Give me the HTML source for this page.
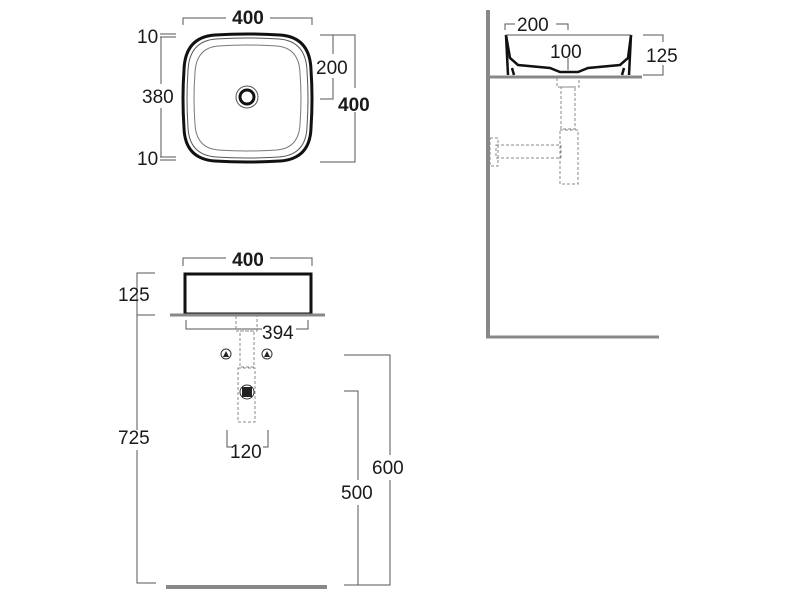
<!DOCTYPE html>
<html><head><style>body{margin:0;background:#fff}svg{display:block}text{font-family:"Liberation Sans",Arial,sans-serif;font-size:19px;fill:#1a1a1a}.b{font-weight:bold}</style></head><body>
<svg width="800" height="600" viewBox="0 0 800 600" xmlns="http://www.w3.org/2000/svg">
<g fill="none" stroke="#555" stroke-width="1">
<polyline points="183,25 183,18 226,18"/><polyline points="270,18 312,18 312,25"/>
<line x1="160" y1="34" x2="176" y2="34"/><line x1="160" y1="37" x2="176" y2="37"/>
<line x1="160" y1="157" x2="176" y2="157"/><line x1="160" y1="160" x2="176" y2="160"/>
<line x1="161" y1="37" x2="161" y2="84"/><line x1="161" y1="108" x2="161" y2="157"/>
<polyline points="320,35 355,35 355,88"/><polyline points="355,112 355,162 320,162"/>
<polyline points="333,35 333,54"/><polyline points="333,78 333,99 320,99"/>
</g>
<path d="M215,35 Q247,33 280,35 Q310,37 311,70 Q313,98 311,128 Q310,159 280,161 Q247,163 215,161 Q185,159 184,128 Q182,98 184,70 Q185,37 215,35Z" fill="none" stroke="#111" stroke-width="3"/>
<path d="M216,39 Q247,37 279,39 Q306,41 307,71 Q309,98 307,127 Q306,155 279,157 Q247,159 216,157 Q189,155 188,127 Q186,98 188,71 Q189,41 216,39Z" fill="none" stroke="#555" stroke-width="1"/>
<path d="M218,46 Q247,44 277,46 Q299,48 300,73 Q302,98 300,124 Q299,148 277,150 Q247,152 218,150 Q196,148 195,124 Q193,98 195,73 Q196,48 218,46Z" fill="none" stroke="#777" stroke-width="1"/>
<circle cx="247" cy="97" r="11" fill="none" stroke="#555"/>
<circle cx="247" cy="97" r="7" fill="none" stroke="#111" stroke-width="3"/>
<text x="248" y="24" text-anchor="middle" class="b">400</text>
<text x="137" y="43">10</text><text x="142" y="103">380</text><text x="137" y="165">10</text>
<text x="316" y="74">200</text><text x="338" y="111" class="b">400</text>

<line x1="488" y1="10" x2="488" y2="338" stroke="#888" stroke-width="4"/>
<line x1="486" y1="337" x2="659" y2="337" stroke="#888" stroke-width="3"/>
<line x1="488" y1="77" x2="642" y2="77" stroke="#888" stroke-width="3"/>
<path d="M506,35 L510,58 L518,65 L550,68 L560,72 L578,72 L588,68 L620,65 L628,58 L631,35" fill="none" stroke="#111" stroke-width="2.5"/>
<path d="M506,35 L508,75 M631,35 L629,75 M512,68 L514,75 M624,68 L622,75" stroke="#111" stroke-width="2.5" fill="none"/>
<line x1="506" y1="35" x2="631" y2="35" stroke="#555"/>
<g fill="none" stroke="#555"><polyline points="505,30 505,24 515,24"/><polyline points="556,24 568,24 568,30"/>
<line x1="568" y1="58" x2="568" y2="70"/>
<polyline points="643,35 663,35 663,42"/><polyline points="663,65 663,75 643,75"/></g>
<g fill="none" stroke="#888" stroke-dasharray="3,2">
<rect x="557" y="77" width="22" height="10"/><rect x="561" y="87" width="14" height="42"/>
<rect x="560" y="130" width="18" height="54"/><rect x="496" y="145" width="65" height="13"/><rect x="490" y="138" width="8" height="28"/>
</g>
<text x="517" y="31">200</text><text x="550" y="58">100</text><text x="646" y="62">125</text>

<g fill="none" stroke="#555">
<polyline points="183,266 183,258 226,258"/><polyline points="270,258 312,258 312,266"/>
<polyline points="186,320 186,329 262,329"/><polyline points="296,329 308,329 308,320"/>
<polyline points="155,273 137,273 137,430"/><line x1="137" y1="315" x2="155" y2="315"/>
<polyline points="137,450 137,583 156,583"/>
<polyline points="227,430 227,447 232,447"/><polyline points="263,447 268,447 268,430"/>
<polyline points="344,355 390,355 390,455"/><polyline points="390,480 390,585 344,585"/>
<polyline points="344,391 358,391 358,480"/><polyline points="358,505 358,585"/>
</g>
<rect x="185" y="274" width="126" height="40" fill="none" stroke="#111" stroke-width="3"/>
<line x1="170" y1="315" x2="325" y2="315" stroke="#888" stroke-width="3"/>
<line x1="166" y1="587" x2="327" y2="587" stroke="#888" stroke-width="4"/>
<g fill="none" stroke="#888" stroke-dasharray="3,2">
<rect x="236" y="315" width="21" height="16"/><rect x="240" y="331" width="14" height="36"/><rect x="238" y="368" width="17" height="54"/>
</g>
<circle cx="226" cy="354" r="5" fill="#fff" stroke="#333"/><path d="M223,357 L226,351 L229,357Z" fill="#222"/>
<circle cx="267" cy="354" r="5" fill="#fff" stroke="#333"/><path d="M264,357 L267,351 L270,357Z" fill="#222"/>
<circle cx="247" cy="392" r="7" fill="#fff" stroke="#333"/><rect x="242" y="387" width="10" height="10" fill="#222"/>
<text x="248" y="266" text-anchor="middle" class="b">400</text>
<text x="262" y="339">394</text><text x="230" y="458">120</text>
<text x="118" y="301">125</text><text x="118" y="444">725</text>
<text x="372" y="474">600</text><text x="341" y="499">500</text>
</svg>
</body></html>
